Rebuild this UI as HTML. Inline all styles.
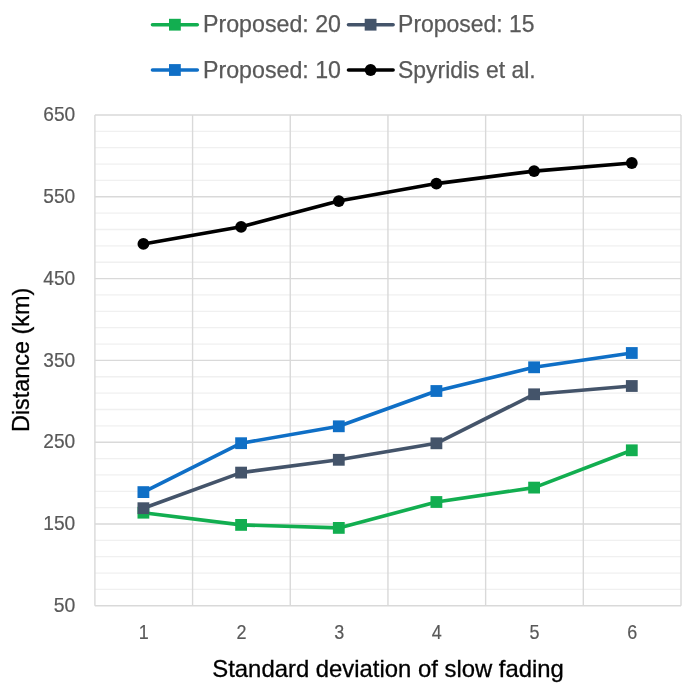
<!DOCTYPE html>
<html lang="en"><head><meta charset="utf-8"><title>Distance vs standard deviation of slow fading</title>
<style>
html,body{margin:0;padding:0;background:#fff;}
svg{display:block;}
text{font-family:"Liberation Sans",Arial,sans-serif;}
.ax{fill:#595959;font-size:19.8px;stroke:#595959;stroke-width:.2px;}
.lg{fill:#595959;font-size:23.4px;stroke:#595959;stroke-width:.25px;}
.tt{fill:#000;font-size:23.6px;stroke:#000;stroke-width:.3px;}
</style></head><body>
<svg width="691" height="691" viewBox="0 0 691 691">
<rect width="691" height="691" fill="#fff"/>
<g stroke="#f0f0f0" stroke-width="1.3" fill="none">
<line x1="94.9" x2="681.0" y1="131.36" y2="131.36"/>
<line x1="94.9" x2="681.0" y1="147.72" y2="147.72"/>
<line x1="94.9" x2="681.0" y1="164.08" y2="164.08"/>
<line x1="94.9" x2="681.0" y1="180.44" y2="180.44"/>
<line x1="94.9" x2="681.0" y1="213.16" y2="213.16"/>
<line x1="94.9" x2="681.0" y1="229.52" y2="229.52"/>
<line x1="94.9" x2="681.0" y1="245.88" y2="245.88"/>
<line x1="94.9" x2="681.0" y1="262.24" y2="262.24"/>
<line x1="94.9" x2="681.0" y1="294.96" y2="294.96"/>
<line x1="94.9" x2="681.0" y1="311.32" y2="311.32"/>
<line x1="94.9" x2="681.0" y1="327.68" y2="327.68"/>
<line x1="94.9" x2="681.0" y1="344.04" y2="344.04"/>
<line x1="94.9" x2="681.0" y1="376.76" y2="376.76"/>
<line x1="94.9" x2="681.0" y1="393.12" y2="393.12"/>
<line x1="94.9" x2="681.0" y1="409.48" y2="409.48"/>
<line x1="94.9" x2="681.0" y1="425.84" y2="425.84"/>
<line x1="94.9" x2="681.0" y1="458.56" y2="458.56"/>
<line x1="94.9" x2="681.0" y1="474.92" y2="474.92"/>
<line x1="94.9" x2="681.0" y1="491.28" y2="491.28"/>
<line x1="94.9" x2="681.0" y1="507.64" y2="507.64"/>
<line x1="94.9" x2="681.0" y1="540.36" y2="540.36"/>
<line x1="94.9" x2="681.0" y1="556.72" y2="556.72"/>
<line x1="94.9" x2="681.0" y1="573.08" y2="573.08"/>
<line x1="94.9" x2="681.0" y1="589.44" y2="589.44"/>
</g>
<g stroke="#d9d9d9" stroke-width="1.4" fill="none">
<line x1="94.9" x2="681.0" y1="115.00" y2="115.00"/>
<line x1="94.9" x2="681.0" y1="196.80" y2="196.80"/>
<line x1="94.9" x2="681.0" y1="278.60" y2="278.60"/>
<line x1="94.9" x2="681.0" y1="360.40" y2="360.40"/>
<line x1="94.9" x2="681.0" y1="442.20" y2="442.20"/>
<line x1="94.9" x2="681.0" y1="524.00" y2="524.00"/>
<line x1="94.9" x2="681.0" y1="605.80" y2="605.80"/>
<line x1="94.90" x2="94.90" y1="115.0" y2="605.8"/>
<line x1="192.58" x2="192.58" y1="115.0" y2="605.8"/>
<line x1="290.27" x2="290.27" y1="115.0" y2="605.8"/>
<line x1="387.95" x2="387.95" y1="115.0" y2="605.8"/>
<line x1="485.63" x2="485.63" y1="115.0" y2="605.8"/>
<line x1="583.32" x2="583.32" y1="115.0" y2="605.8"/>
<line x1="681.00" x2="681.00" y1="115.0" y2="605.8"/>
</g>
<polyline points="143.4,512.7 241.1,524.9 338.8,527.9 436.4,502.0 534.1,487.6 631.8,450.3" fill="none" stroke="#12ae50" stroke-width="3.6" stroke-linejoin="round" stroke-linecap="round"/>
<rect x="137.5" y="506.8" width="11.8" height="11.8" fill="#12ae50"/>
<rect x="235.2" y="519.0" width="11.8" height="11.8" fill="#12ae50"/>
<rect x="332.9" y="522.0" width="11.8" height="11.8" fill="#12ae50"/>
<rect x="430.5" y="496.1" width="11.8" height="11.8" fill="#12ae50"/>
<rect x="528.2" y="481.7" width="11.8" height="11.8" fill="#12ae50"/>
<rect x="625.9" y="444.4" width="11.8" height="11.8" fill="#12ae50"/>
<polyline points="143.4,508.2 241.1,472.6 338.8,459.8 436.4,443.3 534.1,394.3 631.8,386.0" fill="none" stroke="#44546a" stroke-width="3.6" stroke-linejoin="round" stroke-linecap="round"/>
<rect x="137.5" y="502.3" width="11.8" height="11.8" fill="#44546a"/>
<rect x="235.2" y="466.7" width="11.8" height="11.8" fill="#44546a"/>
<rect x="332.9" y="453.9" width="11.8" height="11.8" fill="#44546a"/>
<rect x="430.5" y="437.4" width="11.8" height="11.8" fill="#44546a"/>
<rect x="528.2" y="388.4" width="11.8" height="11.8" fill="#44546a"/>
<rect x="625.9" y="380.1" width="11.8" height="11.8" fill="#44546a"/>
<polyline points="143.4,492.1 241.1,443.2 338.8,426.3 436.4,391.0 534.1,367.3 631.8,353.0" fill="none" stroke="#0f6fc6" stroke-width="3.6" stroke-linejoin="round" stroke-linecap="round"/>
<rect x="137.5" y="486.2" width="11.8" height="11.8" fill="#0f6fc6"/>
<rect x="235.2" y="437.3" width="11.8" height="11.8" fill="#0f6fc6"/>
<rect x="332.9" y="420.4" width="11.8" height="11.8" fill="#0f6fc6"/>
<rect x="430.5" y="385.1" width="11.8" height="11.8" fill="#0f6fc6"/>
<rect x="528.2" y="361.4" width="11.8" height="11.8" fill="#0f6fc6"/>
<rect x="625.9" y="347.1" width="11.8" height="11.8" fill="#0f6fc6"/>
<polyline points="143.4,243.9 241.1,226.8 338.8,201.1 436.4,183.6 534.1,171.1 631.8,163.0" fill="none" stroke="#000000" stroke-width="3.6" stroke-linejoin="round" stroke-linecap="round"/>
<circle cx="143.4" cy="243.9" r="5.9" fill="#000000"/>
<circle cx="241.1" cy="226.8" r="5.9" fill="#000000"/>
<circle cx="338.8" cy="201.1" r="5.9" fill="#000000"/>
<circle cx="436.4" cy="183.6" r="5.9" fill="#000000"/>
<circle cx="534.1" cy="171.1" r="5.9" fill="#000000"/>
<circle cx="631.8" cy="163.0" r="5.9" fill="#000000"/>
<text class="ax" x="75.3" y="121.1" text-anchor="end" textLength="32.0" lengthAdjust="spacingAndGlyphs">650</text>
<text class="ax" x="75.3" y="202.9" text-anchor="end" textLength="32.0" lengthAdjust="spacingAndGlyphs">550</text>
<text class="ax" x="75.3" y="284.7" text-anchor="end" textLength="32.0" lengthAdjust="spacingAndGlyphs">450</text>
<text class="ax" x="75.3" y="366.5" text-anchor="end" textLength="32.0" lengthAdjust="spacingAndGlyphs">350</text>
<text class="ax" x="75.3" y="448.3" text-anchor="end" textLength="32.0" lengthAdjust="spacingAndGlyphs">250</text>
<text class="ax" x="75.3" y="530.1" text-anchor="end" textLength="32.0" lengthAdjust="spacingAndGlyphs">150</text>
<text class="ax" x="75.3" y="611.9" text-anchor="end" textLength="21.6" lengthAdjust="spacingAndGlyphs">50</text>
<text class="ax" x="143.8" y="639.2" text-anchor="middle" textLength="10" lengthAdjust="spacingAndGlyphs">1</text>
<text class="ax" x="241.5" y="639.2" text-anchor="middle" textLength="10" lengthAdjust="spacingAndGlyphs">2</text>
<text class="ax" x="339.2" y="639.2" text-anchor="middle" textLength="10" lengthAdjust="spacingAndGlyphs">3</text>
<text class="ax" x="436.8" y="639.2" text-anchor="middle" textLength="10" lengthAdjust="spacingAndGlyphs">4</text>
<text class="ax" x="534.5" y="639.2" text-anchor="middle" textLength="10" lengthAdjust="spacingAndGlyphs">5</text>
<text class="ax" x="632.2" y="639.2" text-anchor="middle" textLength="10" lengthAdjust="spacingAndGlyphs">6</text>
<text class="tt" x="212.3" y="677" textLength="351.6" lengthAdjust="spacingAndGlyphs">Standard deviation of slow fading</text>
<text class="tt" transform="translate(29.2,432.0) rotate(-90)" textLength="144.3" lengthAdjust="spacingAndGlyphs">Distance (km)</text>
<line x1="152.5" x2="197.3" y1="24.7" y2="24.7" stroke="#12ae50" stroke-width="3.6" stroke-linecap="round"/>
<rect x="169.0" y="18.8" width="11.8" height="11.8" fill="#12ae50"/>
<text class="lg" x="203.0" y="32.1" textLength="138" lengthAdjust="spacingAndGlyphs">Proposed: 20</text>
<line x1="348.5" x2="393.1" y1="24.7" y2="24.7" stroke="#44546a" stroke-width="3.6" stroke-linecap="round"/>
<rect x="364.7" y="18.8" width="11.8" height="11.8" fill="#44546a"/>
<text class="lg" x="398.1" y="32.1" textLength="136.5" lengthAdjust="spacingAndGlyphs">Proposed: 15</text>
<line x1="152.5" x2="197.3" y1="70.0" y2="70.0" stroke="#0f6fc6" stroke-width="3.6" stroke-linecap="round"/>
<rect x="169.0" y="64.1" width="11.8" height="11.8" fill="#0f6fc6"/>
<text class="lg" x="203.0" y="77.5" textLength="138" lengthAdjust="spacingAndGlyphs">Proposed: 10</text>
<line x1="348.5" x2="393.1" y1="70.0" y2="70.0" stroke="#000000" stroke-width="3.6" stroke-linecap="round"/>
<circle cx="370.6" cy="70.0" r="5.9" fill="#000000"/>
<text class="lg" x="398.0" y="77.5" textLength="137.6" lengthAdjust="spacingAndGlyphs">Spyridis et al.</text>
</svg></body></html>
